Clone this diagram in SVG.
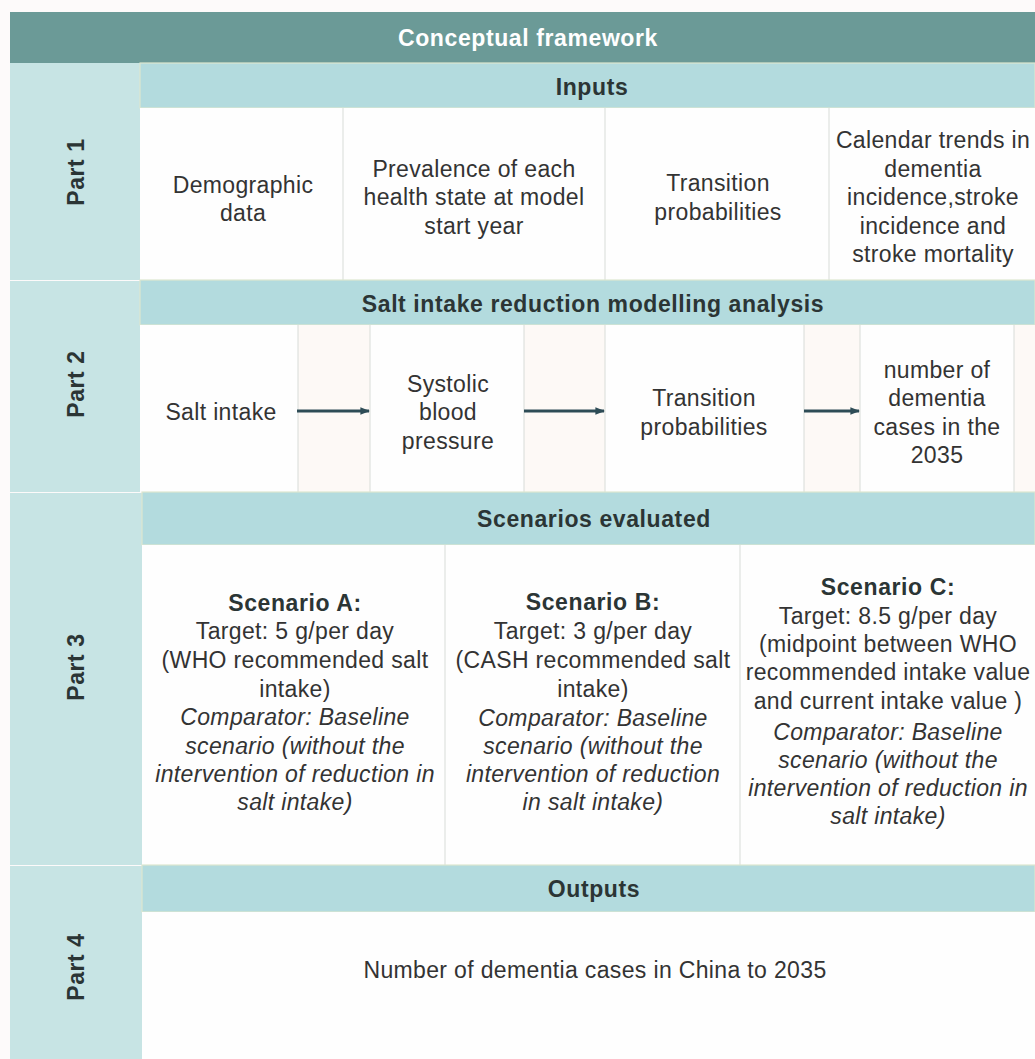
<svg xmlns="http://www.w3.org/2000/svg" width="1035" height="1059" viewBox="0 0 1035 1059">
<style>
  text { font-family: "Liberation Sans", Arial, sans-serif; font-size: 23px; fill: #333; text-anchor: middle; letter-spacing: 0.35px; }
  .b { font-weight: bold; letter-spacing: 0.6px; fill: #2b3535; }
  .i { font-style: italic; }
  .title { font-weight: bold; fill: #ffffff; letter-spacing: 0.6px; }
  .part { font-weight: bold; fill: #2b3535; letter-spacing: 0.6px; }
  .side { fill: #c7e4e4; }
  .hdr { fill: #b3dbde; stroke: #dde6cf; stroke-width: 1.2; }
  .cell { fill: #fefefe; }
  .acell { fill: #fdf9f6; }
  .div { stroke: #d8dcd8; stroke-width: 1; }
  .arrow { stroke: #2e4c56; stroke-width: 3; fill: none; marker-end: url(#ah); }
</style>
<defs>
  <marker id="ah" viewBox="0 0 10 10" refX="9" refY="5" markerWidth="3.2" markerHeight="3.2" orient="auto" markerUnits="strokeWidth">
    <path d="M0,1 L10,5 L0,9 z" fill="#2e4c56"/>
  </marker>
</defs>
<rect x="0" y="0" width="1035" height="1059" fill="#fdfafa"/>

<g id="title">
  <rect x="10" y="12" width="1025" height="51" fill="#6b9a97"/>
  <text class="title" x="528" y="46">Conceptual framework</text>
</g>

<g id="side-column">
  <rect class="side" x="10" y="63" width="130" height="217"/>
  <rect class="side" x="10" y="281" width="130" height="211"/>
  <rect class="side" x="10" y="493" width="132" height="372"/>
  <rect class="side" x="10" y="866" width="132" height="193"/>
</g>

<g id="part1">
  <text class="part" transform="translate(84,172) rotate(-90)">Part 1</text>
</g>
<g id="part2">
  <text class="part" transform="translate(84,384) rotate(-90)">Part 2</text>
</g>
<g id="part3">
  <text class="part" transform="translate(84,667) rotate(-90)">Part 3</text>
</g>
<g id="part4">
  <text class="part" transform="translate(84,967) rotate(-90)">Part 4</text>
</g>

<!-- Part 1 -->
<g id="inputs-header">
  <rect class="hdr" x="140" y="63" width="895" height="45"/>
  <text class="b" x="592" y="95">Inputs</text>
</g>
<g id="demographic">
  <rect class="cell" x="140" y="108" width="203" height="172"/>
  <text x="243" y="193">Demographic</text>
  <text x="243" y="221">data</text>
</g>
<g id="prevalence">
  <rect class="cell" x="343" y="108" width="262" height="172"/>
  <text x="474" y="177">Prevalence of each</text>
  <text x="474" y="205">health state at model</text>
  <text x="474" y="234">start year</text>
</g>
<g id="transition1">
  <rect class="cell" x="605" y="108" width="224" height="172"/>
  <text x="718" y="191">Transition</text>
  <text x="718" y="220">probabilities</text>
</g>
<g id="calendar">
  <rect class="cell" x="829" y="108" width="206" height="172"/>
  <text x="933" y="148">Calendar trends in</text>
  <text x="933" y="177">dementia</text>
  <text x="933" y="205">incidence,stroke</text>
  <text x="933" y="234">incidence and</text>
  <text x="933" y="262">stroke mortality</text>
</g>
<g id="part1-dividers">
  <line class="div" x1="343" y1="108" x2="343" y2="280"/>
  <line class="div" x1="605" y1="108" x2="605" y2="280"/>
  <line class="div" x1="829" y1="108" x2="829" y2="280"/>
</g>

<!-- Part 2 -->
<g id="salt-header">
  <rect class="hdr" x="140" y="280" width="895" height="45"/>
  <text class="b" x="593" y="312">Salt intake reduction modelling analysis</text>
</g>
<g id="salt-intake">
  <rect class="cell" x="140" y="325" width="158" height="167"/>
  <text x="221" y="420">Salt intake</text>
</g>
<rect class="acell" x="298" y="325" width="72" height="167"/>
<g id="sbp">
  <rect class="cell" x="370" y="325" width="154" height="167"/>
  <text x="448" y="392">Systolic</text>
  <text x="448" y="420">blood</text>
  <text x="448" y="449">pressure</text>
</g>
<rect class="acell" x="524" y="325" width="81" height="167"/>
<g id="transition2">
  <rect class="cell" x="605" y="325" width="199" height="167"/>
  <text x="704" y="406">Transition</text>
  <text x="704" y="435">probabilities</text>
</g>
<rect class="acell" x="804" y="325" width="56" height="167"/>
<g id="dementia-cases">
  <rect class="cell" x="860" y="325" width="154" height="167"/>
  <text x="937" y="378">number of</text>
  <text x="937" y="406">dementia</text>
  <text x="937" y="435">cases in the</text>
  <text x="937" y="463">2035</text>
</g>
<rect class="acell" x="1014" y="325" width="21" height="167"/>
<g id="part2-dividers">
  <line class="div" x1="298" y1="325" x2="298" y2="492"/>
  <line class="div" x1="370" y1="325" x2="370" y2="492"/>
  <line class="div" x1="524" y1="325" x2="524" y2="492"/>
  <line class="div" x1="605" y1="325" x2="605" y2="492"/>
  <line class="div" x1="804" y1="325" x2="804" y2="492"/>
  <line class="div" x1="860" y1="325" x2="860" y2="492"/>
  <line class="div" x1="1014" y1="325" x2="1014" y2="492"/>
</g>

<!-- Part 3 -->
<g id="scenarios-header">
  <rect class="hdr" x="142" y="492" width="893" height="53"/>
  <text class="b" x="594" y="527">Scenarios evaluated</text>
</g>
<g id="scenario-a">
  <rect class="cell" x="142" y="545" width="303" height="320"/>
  <text class="b" x="295" y="611">Scenario A:</text>
  <text x="295" y="639">Target: 5 g/per day</text>
  <text x="295" y="668">(WHO recommended salt</text>
  <text x="295" y="697">intake)</text>
  <text class="i" x="295" y="725">Comparator: Baseline</text>
  <text class="i" x="295" y="754">scenario (without the</text>
  <text class="i" x="295" y="782">intervention of reduction in</text>
  <text class="i" x="295" y="810">salt intake)</text>
</g>
<g id="scenario-b">
  <rect class="cell" x="445" y="545" width="295" height="320"/>
  <text class="b" x="593" y="610">Scenario B:</text>
  <text x="593" y="639">Target: 3 g/per day</text>
  <text x="593" y="668">(CASH recommended salt</text>
  <text x="593" y="697">intake)</text>
  <text class="i" x="593" y="726">Comparator: Baseline</text>
  <text class="i" x="593" y="754">scenario (without the</text>
  <text class="i" x="593" y="782">intervention of reduction</text>
  <text class="i" x="593" y="810">in salt intake)</text>
</g>
<g id="scenario-c">
  <rect class="cell" x="740" y="545" width="295" height="320"/>
  <text class="b" x="888" y="595">Scenario C:</text>
  <text x="888" y="624">Target: 8.5 g/per day</text>
  <text x="888" y="652">(midpoint between WHO</text>
  <text x="888" y="680">recommended intake value</text>
  <text x="888" y="709">and current intake value )</text>
  <text class="i" x="888" y="740">Comparator: Baseline</text>
  <text class="i" x="888" y="768">scenario (without the</text>
  <text class="i" x="888" y="796">intervention of reduction in</text>
  <text class="i" x="888" y="824">salt intake)</text>
</g>
<g id="part3-dividers">
  <line class="div" x1="445" y1="545" x2="445" y2="865"/>
  <line class="div" x1="740" y1="545" x2="740" y2="865"/>
</g>

<!-- Part 4 -->
<g id="outputs-header">
  <rect class="hdr" x="142" y="865" width="893" height="47"/>
  <text class="b" x="594" y="897">Outputs</text>
</g>
<g id="outputs">
  <rect class="cell" x="142" y="912" width="893" height="147"/>
  <text x="595" y="978">Number of dementia cases in China to 2035</text>
</g>

<g id="connectors">
  <line class="arrow" x1="297" y1="411" x2="369" y2="411"/>
  <line class="arrow" x1="524" y1="411" x2="604" y2="411"/>
  <line class="arrow" x1="804" y1="411" x2="859" y2="411"/>
</g>
</svg>
